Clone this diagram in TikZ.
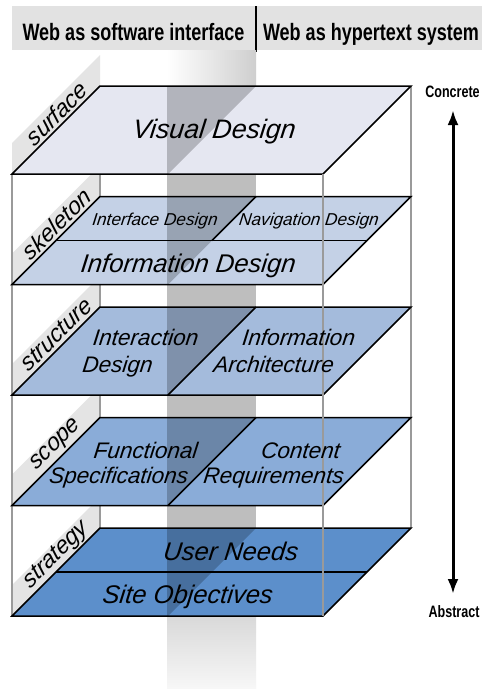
\documentclass[tikz,border=0pt]{standalone}
\usepackage{fontspec}
\setmainfont{Liberation Sans}
\newfontfamily\hdrfont[FakeStretch=0.76]{Liberation Sans}
\newfontfamily\planefont[ItalicFeatures={FakeSlant=0.12}]{Liberation Sans}
\usetikzlibrary{arrows.meta}
\definecolor{hdrgray}{HTML}{E2E2E2}
\definecolor{tabgray}{HTML}{E4E4E4}
\definecolor{boxgray}{HTML}{9A9A9A}
\definecolor{pillargray}{HTML}{BEBEBE}
\definecolor{csurf}{HTML}{E5E7F1}
\definecolor{cskel}{HTML}{C4D1E6}
\definecolor{cstruc}{HTML}{A4BBDC}
\definecolor{cscope}{HTML}{8AACD8}
\definecolor{cstrat}{HTML}{5C8FCB}
\newcommand{\pfs}[1]{\planefont\itshape\fontsize{#1}{#1}\selectfont}
\newcommand{\hfs}[1]{\hdrfont\bfseries\fontsize{#1}{#1}\selectfont}
\begin{document}
\begin{tikzpicture}[x=1pt,y=-1pt,
  ptxt/.style={anchor=base,inner sep=0pt},
  hdr/.style={anchor=base,inner sep=0pt,font=\hfs{23.7}},
  lbl/.style={inner sep=0pt,rotate=45,font=\planefont\itshape\fontsize{23.5}{23.5}\selectfont},
  boxline/.style={draw=boxgray,line width=1.6pt},
  planeline/.style={draw=black,line width=1.5pt,line join=miter},
  scaletxt/.style={anchor=base,inner sep=0pt,font=\hfs{16.5}}]
\useasboundingbox (0,0) rectangle (482,689);
\fill[white] (0,0) rectangle (482,689);
% header
\fill[hdrgray] (12,6) rectangle (482,50);
\draw[black,line width=2pt] (256,6) -- (256,52);
\node[hdr] (hsoft) at (133.5,40) {Web as software interface};
\node[hdr] (hhyper) at (371,40) {Web as hypertext system};
% pillar
\shade[left color=white,right color=gray!38] (167,50) rectangle (256,86);
\fill[pillargray] (167,86) rectangle (256,616);
\shade[top color=gray!30,bottom color=gray!6] (167,616) rectangle (256,689);
% tabs
\foreach \b/\pv in {86/50,196.5/174,307/284.5,417.5/395,528/505.5}{
  \begin{scope}
    \clip (0,\pv) rectangle (120,{\b+88});
    \fill[tabgray] (12,{\b+88}) -- (100,\b) -- (100,{\b-31}) -- (12,{\b+57}) -- cycle;
  \end{scope}
}
% hidden box lines
\draw[boxline] (12,174) -- (12,616);
\draw[boxline] (100,86) -- (100,528);
\draw[boxline] (411,86) -- (411,528);
% planes
\foreach \b/\c in {86/csurf,196.5/cskel,307/cstruc,417.5/cscope,528/cstrat}{
  \fill[\c] (12,{\b+88}) -- (323,{\b+88}) -- (411,\b) -- (100,\b) -- cycle;
  \fill[black,opacity=0.22] (167,\b) -- (256,\b) -- (168,{\b+88}) -- (167,{\b+88}) -- cycle;
  \draw[planeline] (12,{\b+88}) -- (323,{\b+88}) -- (411,\b) -- (100,\b) -- cycle;
}
% dividers
\draw[planeline] (56,240.5) -- (367,240.5);
\draw[planeline] (256,196.5) -- (212,240.5);
\draw[planeline] (256,307) -- (168,395);
\draw[planeline] (256,417.5) -- (168,505.5);
\draw[planeline] (56,572) -- (367,572);
% front right edge
\draw[boxline] (323,174) -- (323,616);
% plane texts
\node[ptxt,font=\pfs{26.7}] (vis) at (213.5,138) {Visual Design};
\node[ptxt,font=\pfs{17.2}] (iface) at (154.5,225) {Interface Design};
\node[ptxt,font=\pfs{17.2}] (nav) at (308.5,225) {Navigation Design};
\node[ptxt,font=\pfs{25.6}] (infod) at (187.5,272) {Information Design};
\node[ptxt,font=\pfs{22.5}] (inter1) at (145,345) {Interaction};
\node[ptxt,font=\pfs{22.5}] (inter2) at (117,372) {Design};
\node[ptxt,font=\pfs{22.5}] (ia1) at (298,345) {Information};
\node[ptxt,font=\pfs{22.5}] (ia2) at (273,372) {Architecture};
\node[ptxt,font=\pfs{22.5}] (fs1) at (145,458) {Functional};
\node[ptxt,font=\pfs{22.5}] (fs2) at (118,483) {Specifications};
\node[ptxt,font=\pfs{22.5}] (cr1) at (300,458) {Content};
\node[ptxt,font=\pfs{22.5}] (cr2) at (273,483) {Requirements};
\node[ptxt,font=\pfs{25.5}] (un) at (230,560) {User Needs};
\node[ptxt,font=\pfs{25.5}] (so) at (187,603) {Site Objectives};
% layer labels
\node[lbl] (lsurf) at (56,114) {surface};
\node[lbl] (lskel) at (56,224.5) {skeleton};
\node[lbl] (lstruc) at (56,335) {structure};
\node[lbl] (lscope) at (56,445.5) {scope};
\node[lbl] (lstrat) at (56,556) {strategy};
% scale arrow
\node[scaletxt] (conc) at (452.5,97) {Concrete};
\node[scaletxt] (abst) at (454,617) {Abstract};
\coordinate (atop) at (453,110);
\coordinate (abot) at (453,594);
\draw[line width=3pt,{Latex[length=15pt,width=11pt]}-{Latex[length=15pt,width=11pt]}] (atop) -- (abot);
\end{tikzpicture}
\end{document}
